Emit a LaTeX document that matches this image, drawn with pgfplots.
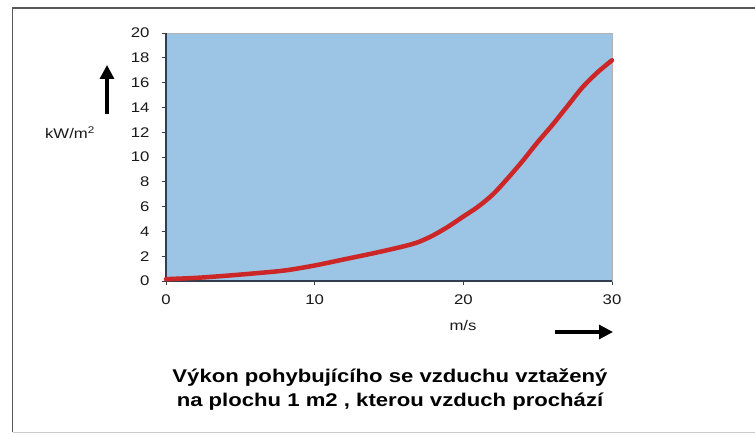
\documentclass[border=0pt]{standalone}
\usepackage{fontspec}
\setmainfont[FakeStretch=1.2]{Liberation Sans}
\usepackage{pgfplots}
\pgfplotsset{compat=1.18}
\usetikzlibrary{arrows.meta}
\definecolor{plotblue}{RGB}{155,196,229}
\definecolor{curvered}{RGB}{204,38,38}
\definecolor{axisdark}{RGB}{50,62,80}
\begin{document}
\begin{tikzpicture}
\path[use as bounding box] (0,0) rectangle (755bp,436bp);
% outer frame
\draw[black!65, line width=1.6bp] (755bp,428bp) -- (12.5bp,428bp) -- (12.5bp,3.5bp);
\draw[black!20, line width=1bp] (12.5bp,3.5bp) -- (755bp,3.5bp);
\begin{axis}[
  at={(166bp,155bp)}, anchor=south west,
  scale only axis, width=446bp, height=248bp,
  xmin=0, xmax=30, ymin=0, ymax=20,
  xtick={0,10,20,30}, ytick={0,2,...,20},
  tick align=outside, xtick pos=bottom, ytick pos=left,
  major tick length=4bp,
  axis line style={draw=black!30, line width=0.8bp},
  tick style={draw=axisdark, line width=0.8bp},
  axis background/.style={fill=plotblue},
  ticklabel style={font=\fontsize{14}{14}\selectfont, text=black!90},
  /pgf/number format/assume math mode=true,
  yticklabel style={xshift=-9bp},
  xticklabel style={yshift=-6bp},
  clip=false,
]
\draw[axisdark, line width=1.3bp] (axis cs:0,20) -- (axis cs:0,0) -- (axis cs:30,0);
\addplot[curvered, line width=4.5bp, smooth, line cap=round] coordinates {
(0,0.15) (2,0.25) (4,0.42) (6,0.62) (8,0.85) (10,1.25) (12,1.75) (14,2.25)
(16,2.8) (17,3.15) (18,3.7) (19,4.4) (20,5.2) (21,6.0) (22,7.0) (23,8.3)
(24,9.7) (25,11.2) (26,12.6) (27,14.1) (28,15.6) (29,16.8) (30,17.8)
};
\end{axis}
% unit labels and arrows
\node[font=\fontsize{14}{14}\selectfont, text=black!90] at (70bp,303bp) {kW/m\textsuperscript{2}};
\draw[black, line width=3.2bp, -{Triangle[length=14bp,width=14bp]}] (107bp,322bp) -- (107bp,371bp);
\node[font=\fontsize{14}{14}\selectfont, text=black!90] at (463bp,110bp) {m/s};
\draw[black, line width=3.2bp, -{Triangle[length=14bp,width=14bp]}] (555bp,104bp) -- (613bp,104bp);
% title
\node[font=\bfseries\fontsize{18.5}{25}\selectfont, align=center, text=black] at (390bp,46.5bp)
  {Výkon pohybujícího se vzduchu vztažený\\na plochu 1 m2 , kterou vzduch prochází};
\end{tikzpicture}
\end{document}
